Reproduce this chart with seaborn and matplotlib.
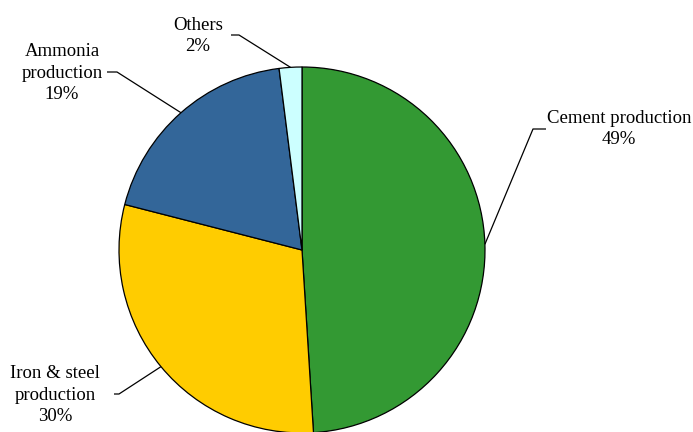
import numpy as np
import matplotlib
matplotlib.use("Agg")
import matplotlib.pyplot as plt
import seaborn as sns

# Industrial CO2 emission shares by source
sources = ["Cement production", "Iron & steel\nproduction", "Ammonia\nproduction", "Others"]
shares = [49, 30, 19, 2]
colors = ["#339933", "#FFCC00", "#336699", "#CCFFFF"]

sns.set_theme(style="white")
plt.rcParams["font.family"] = ["Liberation Serif", "DejaVu Serif"]

W, H = 693, 432
fig = plt.figure(figsize=(W / 100, H / 100), dpi=100)
ax = fig.add_axes([0, 0, 1, 1])

center = (302, H - 250)
radius = 183

wedges, _ = ax.pie(
    shares, colors=colors, startangle=90, counterclock=False,
    center=center, radius=radius, frame=True,
    wedgeprops=dict(edgecolor="black", linewidth=0.9),
)
ax.set_xlim(0, W)
ax.set_ylim(0, H)
ax.set_aspect("equal")
ax.axis("off")

# label text anchor (centre of text block) and leader-line elbow points
label_layout = {
    "Cement production": dict(text=(619, 129), elbow=[(546, 129), (533, 129)]),
    "Iron & steel\nproduction": dict(text=(55, 395), elbow=[(114, 394), (119, 394)]),
    "Ammonia\nproduction": dict(text=(62, 73), elbow=[(107, 72), (117, 72)]),
    "Others": dict(text=(198, 36), elbow=[(231, 35), (239, 35)]),
}

for w, name, pct in zip(wedges, sources, shares):
    ang = np.deg2rad((w.theta1 + w.theta2) / 2)
    edge = (center[0] + radius * np.cos(ang), center[1] + radius * np.sin(ang))
    lay = label_layout[name]
    tx, ty = lay["text"]
    ax.text(tx, H - ty, f"{name}\n{pct}%", ha="center", va="center",
            fontsize=13.5, color="black", linespacing=1.38)
    pts = [(x, H - y) for x, y in lay["elbow"]] + [edge]
    xs, ys = zip(*pts)
    ax.plot(xs, ys, color="black", linewidth=0.9, solid_capstyle="butt")

fig.savefig("out.png", dpi=100, facecolor="white")
